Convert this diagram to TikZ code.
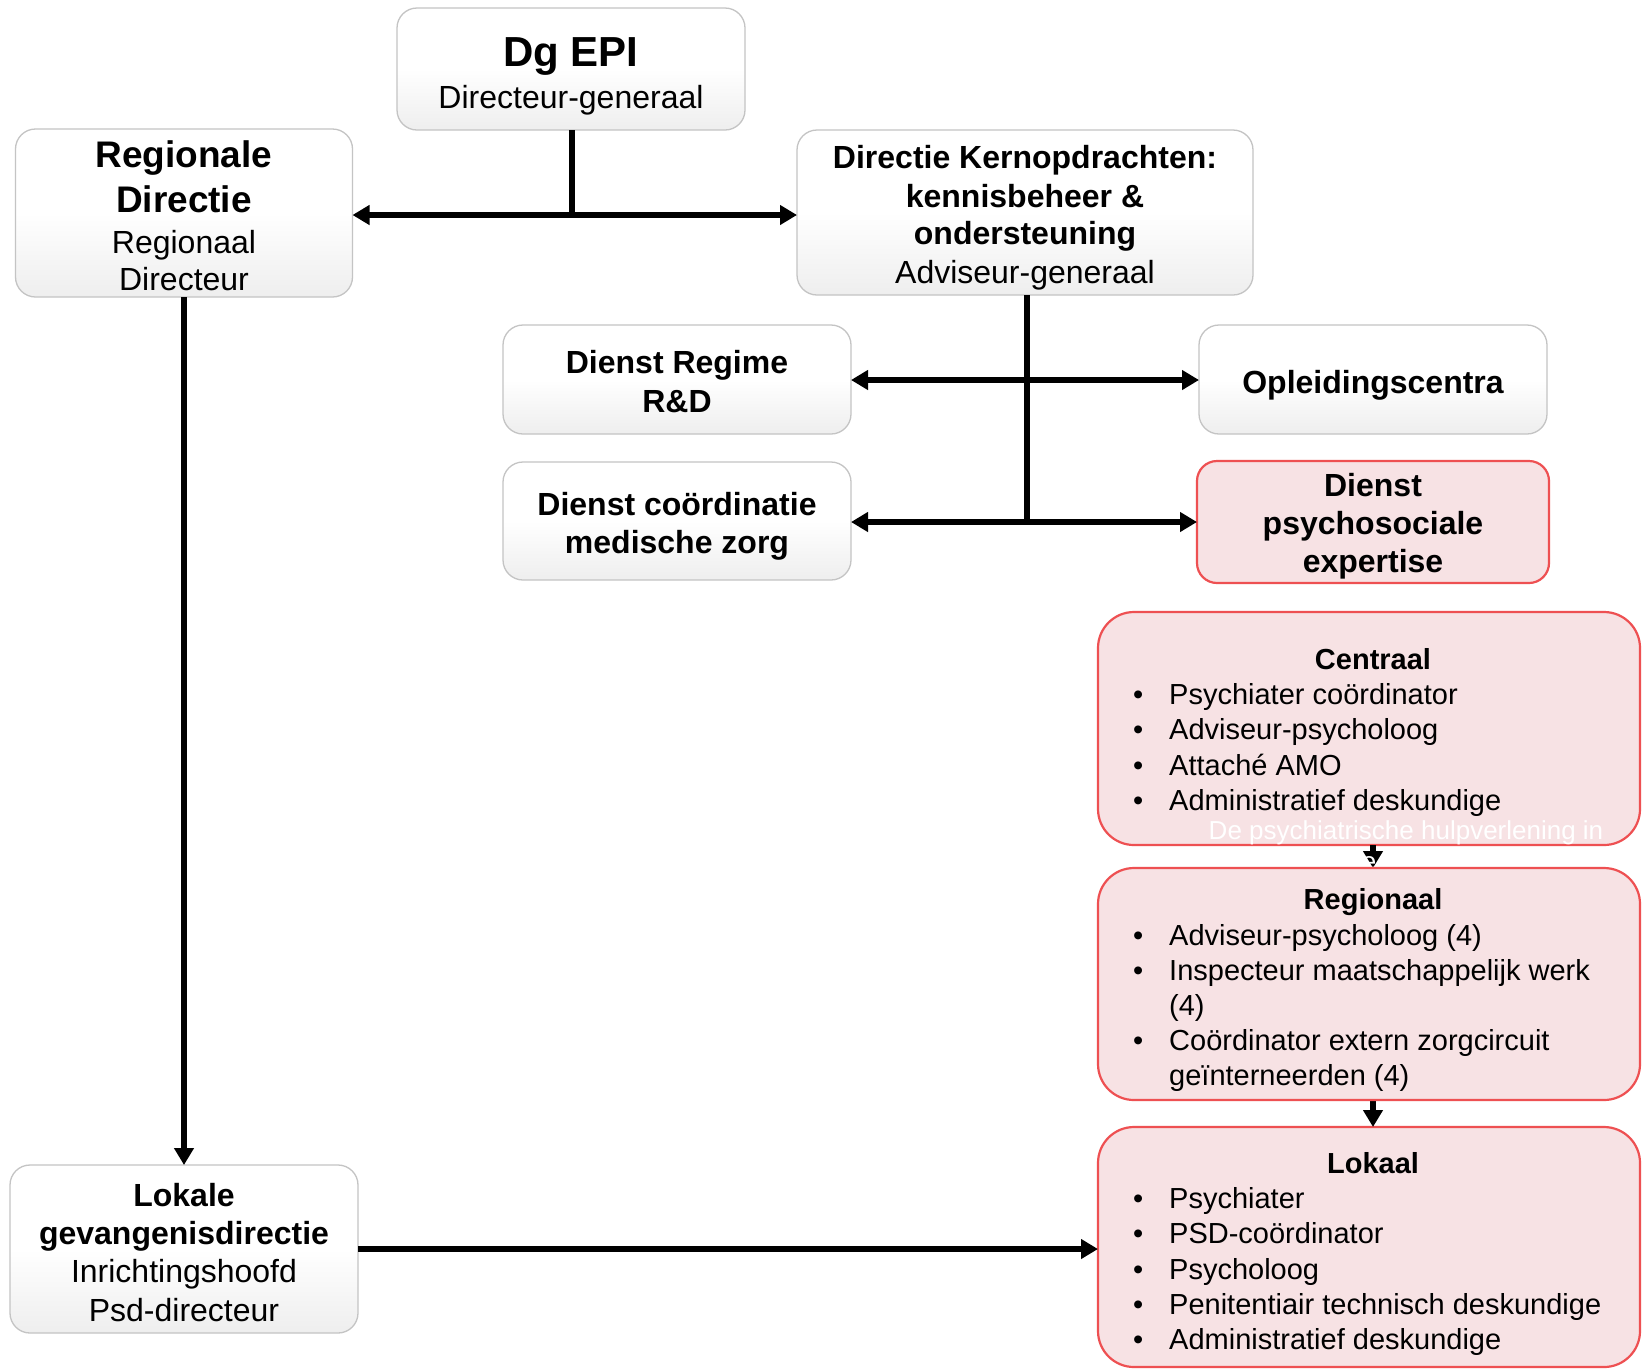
\documentclass[tikz,border=0pt]{standalone}
\usepackage{fontspec}
\setmainfont{Liberation Sans}
\usetikzlibrary{arrows.meta}
\definecolor{pinkfill}{RGB}{247,226,228}
\definecolor{pinkedge}{RGB}{238,80,82}
\definecolor{wedge}{RGB}{196,196,196}
\definecolor{wbot}{RGB}{238,238,238}
\pgfdeclarelayer{fg}
\pgfsetlayers{main,fg}
\tikzset{
  wbox/.style={draw=wedge, line width=1.3pt, rounded corners=20pt, top color=white, bottom color=wbot, middle color=white, inner sep=0pt, outer sep=0pt},
  pbox/.style={draw=pinkedge, line width=2.2pt, rounded corners=20pt, fill=pinkfill, inner sep=0pt, outer sep=0pt},
  bigp/.style={pbox, rounded corners=36pt, minimum width=542pt},
  tb/.style={anchor=base, inner sep=0pt, font=\fontsize{32}{38}\selectfont\bfseries},
  tr/.style={anchor=base, inner sep=0pt, font=\fontsize{32}{38}\selectfont},
  ttl/.style={anchor=base, inner sep=0pt, font=\fontsize{29}{35}\selectfont\bfseries},
  itm/.style={anchor=base west, inner sep=0pt, font=\fontsize{29}{35}\selectfont},
  wtxt/.style={anchor=base, inner sep=0pt, text=white, font=\fontsize{26}{31}\selectfont},
  ln/.style={line width=5.5pt},
  arr/.style={line width=5.5pt, -{Triangle[length=17pt,width=19pt]}},
  dbl/.style={line width=5.5pt, {Triangle[length=17pt,width=19pt]}-{Triangle[length=17pt,width=19pt]}}
}
\newcommand{\bul}{\makebox[36pt][l]{•}}
\begin{document}
\begin{tikzpicture}[x=1pt,y=-1pt]
\useasboundingbox (0,0) rectangle (1643,1369);
\fill[white] (0,0) rectangle (1643,1369);

% ---------- white boxes ----------
\node[wbox, minimum width=348pt, minimum height=122pt] (dg) at (571,69) {};
\node[tb, font=\fontsize{42}{48}\selectfont\bfseries] (dgt1) at (571,66) {Dg EPI};
\node[tr] (dgt2) at (571,108) {Directeur-generaal};

\node[wbox, minimum width=337pt, minimum height=168pt] (reg) at (184,213) {};
\node[tb, font=\fontsize{37}{44}\selectfont\bfseries] (regt1) at (184,167) {Regionale};
\node[tb, font=\fontsize{37}{44}\selectfont\bfseries] (regt2) at (184,212) {Directie};
\node[tr] (regt3) at (184,253) {Regionaal};
\node[tr] (regt4) at (184,290) {Directeur};

\node[wbox, minimum width=456pt, minimum height=165pt] (kern) at (1025,212.5) {};
\node[tb] (kt1) at (1025,168) {Directie Kernopdrachten:};
\node[tb] (kt2) at (1025,207) {kennisbeheer \&};
\node[tb] (kt3) at (1025,244) {ondersteuning};
\node[tr] (kt4) at (1025,283) {Adviseur-generaal};

\node[wbox, minimum width=348pt, minimum height=109pt] (regime) at (677,379.5) {};
\node[tb] (rgt1) at (677,373) {Dienst Regime};
\node[tb] (rgt2) at (677,412) {R\&D};

\node[wbox, minimum width=348pt, minimum height=109pt] (opl) at (1373,379.5) {};
\node[tb] (oplt) at (1373,393) {Opleidingscentra};

\node[wbox, minimum width=348pt, minimum height=118pt] (coord) at (677,521) {};
\node[tb] (cot1) at (677,515) {Dienst coördinatie};
\node[tb] (cot2) at (677,553) {medische zorg};

\node[pbox, minimum width=352pt, minimum height=122pt] (psy) at (1373,522) {};
\node[tb] (pst1) at (1373,496) {Dienst};
\node[tb] (pst2) at (1373,534) {psychosociale};
\node[tb] (pst3) at (1373,572) {expertise};

\node[wbox, minimum width=348pt, minimum height=168pt] (lok) at (184,1249) {};
\node[tb] (lot1) at (184,1206) {Lokale};
\node[tb] (lot2) at (184,1244) {gevangenisdirectie};
\node[tr] (lot3) at (184,1282) {Inrichtingshoofd};
\node[tr] (lot4) at (184,1321) {Psd-directeur};

% ---------- Regionaal (on top of the white caption) ----------
\begin{pgfonlayer}{fg}
\node[bigp, minimum height=232pt] (regl) at (1369,984) {};
\node[ttl] (rlt) at (1373,909) {Regionaal};
\node[itm] (r1) at (1133,945) {\bul Adviseur-psycholoog (4)};
\node[itm] (r2) at (1133,980) {\bul Inspecteur maatschappelijk werk};
\node[itm] (r3) at (1169,1015) {(4)};
\node[itm] (r4) at (1133,1050) {\bul Coördinator extern zorgcircuit};
\node[itm] (r5) at (1169,1085) {geïnterneerden (4)};
\end{pgfonlayer}

% ---------- Centraal ----------
\node[bigp, minimum height=233pt] (cen) at (1369,728.5) {};
\node[ttl] (cent) at (1373,669) {Centraal};
\node[itm] (c1) at (1133,704) {\bul Psychiater coördinator};
\node[itm] (c2) at (1133,739) {\bul Adviseur-psycholoog};
\node[itm] (c3) at (1133,775) {\bul Attaché AMO};
\node[itm] (c4) at (1133,810) {\bul Administratief deskundige};

% ---------- Lokaal ----------
\node[bigp, minimum height=240pt] (lkl) at (1369,1247) {};
\node[ttl] (lkt) at (1373,1173) {Lokaal};
\node[itm] (l1) at (1133,1208) {\bul Psychiater};
\node[itm] (l2) at (1133,1243) {\bul PSD-coördinator};
\node[itm] (l3) at (1133,1279) {\bul Psycholoog};
\node[itm] (l4) at (1133,1314) {\bul Penitentiair technisch deskundige};
\node[itm] (l5) at (1133,1349) {\bul Administratief deskundige};

% ---------- connectors ----------
\coordinate (j1) at (572,215);
\coordinate (j2) at (1027,380);
\coordinate (j3) at (1027,522);
\draw[ln] (dg.south -| j1) -- (j1);
\draw[dbl] (reg.east |- j1) -- (kern.west |- j1);
\draw[ln] (kern.south -| j3) -- (j3);
\draw[dbl] (regime.east |- j2) -- (opl.west |- j2);
\draw[dbl] (coord.east |- j3) -- (psy.west |- j3);
\draw[arr] (reg.south) -- (lok.north);
\draw[arr] (lok.east) -- (lkl.west |- lok.east);
\draw[arr] (cent |- cen.south) -- (cent |- regl.north);
\draw[arr] (cent |- regl.south) -- (cent |- lkl.north);

% ---------- faint white caption ----------
\node[wtxt] (w1) at (1406,839) {De psychiatrische hulpverlening in};
\node[wtxt] (w2) at (1406,870) {het Belgische gevangeniswezen};
\end{tikzpicture}
\end{document}
